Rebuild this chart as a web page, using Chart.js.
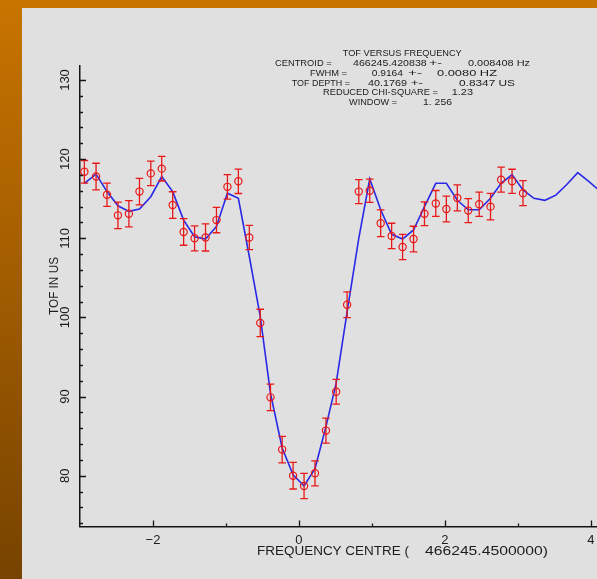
<!DOCTYPE html>
<html><head><meta charset="utf-8">
<script src="https://cdn.jsdelivr.net/npm/chart.js@4.4.1/dist/chart.umd.min.js"></script>
<style>
html,body{margin:0;padding:0;width:597px;height:579px;overflow:hidden;background:#e0e0e0;}
#topband{position:absolute;left:0;top:0;width:597px;height:8px;background:#c87400;}
#leftband{position:absolute;left:0;top:0;width:22px;height:579px;background:linear-gradient(#c87400,#774300);}
#wrap{position:absolute;left:0;top:0;width:597px;height:579px;}
</style></head><body>
<div id="topband"></div><div id="leftband"></div>
<div id="wrap"><canvas id="c" width="597" height="579"></canvas></div>
<script>
// ---- data (frequency offset from centre, TOF in us) ----
const freqOffsets = [-2.94,-2.78,-2.63,-2.48,-2.33,-2.185,-2.03,-1.88,-1.73,-1.58,-1.43,-1.28,-1.13,-0.98,-0.83,-0.68,
  -0.53,-0.39,-0.23,-0.08,0.07,0.22,0.37,0.51,0.66,
  0.82,0.97,1.12,1.27,1.42,1.57,1.72,1.875,2.02,2.17,2.32,2.47,2.625,2.77,2.92,3.07];
const tofMeasured = [118.4,117.8,115.5,112.9,113.1,115.9,118.2,118.8,114.2,110.8,110.0,110.1,112.3,116.5,117.2,110.1,
  99.3,89.9,83.3,80.0,78.7,80.3,85.7,90.6,101.6,
  115.9,116.0,111.9,110.3,108.9,109.9,113.1,114.4,113.7,115.1,113.5,114.3,114.0,117.4,117.2,115.7];
const tofErrors = [1.43,1.68,1.47,1.68,1.66,1.68,1.54,1.56,1.68,1.68,1.58,1.71,1.6,1.54,1.54,1.54,
  1.73,1.68,1.68,1.68,1.6,1.58,1.58,1.56,1.62,
  1.52,1.47,1.68,1.6,1.6,1.62,1.5,1.64,1.62,1.64,1.52,1.52,1.68,1.58,1.52,1.58];
const fitFreq = [-2.94,-2.78,-2.63,-2.48,-2.33,-2.185,-2.03,-1.88,-1.73,-1.58,-1.43,-1.28,-1.13,-0.98,-0.83,-0.68,
  -0.53,-0.39,-0.23,-0.08,0.07,0.22,0.37,0.51,0.66,
  0.82,0.97,1.12,1.27,1.42,1.57,1.72,1.875,2.02,2.17,2.32,2.47,2.625,2.77,2.92,3.07,
  3.22,3.37,3.52,3.67,3.82,3.97,4.12];
const fitTof = [116.95,118.1,115.9,114.1,113.4,113.7,115.25,117.8,115.9,112.3,110.2,109.9,111.5,115.7,115.05,107.7,
  100.1,90.4,83.5,80.1,78.7,80.9,86.2,91.7,100.7,
  110.0,117.5,113.6,110.5,109.9,111.05,114.0,116.95,116.95,114.8,113.6,113.6,115.05,116.95,118.05,116.1,
  115.05,114.8,115.45,116.8,118.3,117.2,116.0];
const xTickLabels = [-2,0,2,4];
const yTickLabels = [80,90,100,110,120,130];
const titleLines = [
  ["TOF VERSUS FREQUENCY"],
  ["CENTROID =","466245.420838","+-","0.008408 Hz"],
  ["FWHM =","0.9164","+-","0.0080 HZ"],
  ["TOF DEPTH =","40.1769","+-","0.8347 US"],
  ["REDUCED CHI-SQUARE =","1.23"],
  ["WINDOW =","1. 256"]
];
const xTitle = ["FREQUENCY CENTRE (","466245.4500000)"];
const yTitle = "TOF IN US";

// ---- layout / style ----
const FONT = '"Liberation Sans", Arial, sans-serif';
const titleSpans = [
  [[342.7,461.7]],
  [[275,331.7],[353,426.7],[429,442],[468,530]],
  [[310,347],[371.7,403],[408,422],[437,497]],
  [[291.7,350],[368,407],[410.7,423],[459,515]],
  [[323,438],[451.7,473]],
  [[349,397],[423,452]]
];
const titleY = [53.7,63.3,73.3,83.3,92.7,102.5];

function fitText(ctx, text, x0, x1, yc, size) {
  ctx.save();
  ctx.font = size + 'px ' + FONT;
  const w = ctx.measureText(text).width;
  ctx.translate(x0, yc);
  ctx.scale((x1 - x0) / w, 1);
  ctx.textAlign = 'left';
  ctx.textBaseline = 'middle';
  ctx.fillText(text, 0, 0);
  ctx.restore();
}
function fmt(v){ return v < 0 ? '\u2212' + Math.abs(v) : String(v); }

const errorBars = {
  id: 'errorBars',
  afterDatasetsDraw(chart) {
    const {ctx, scales: {x, y}} = chart;
    ctx.save();
    ctx.strokeStyle = '#e81818';
    ctx.lineWidth = 1.3;
    ctx.beginPath();
    freqOffsets.forEach((f, i) => {
      const px = x.getPixelForValue(f);
      const yt = y.getPixelForValue(tofMeasured[i] + tofErrors[i]);
      const yb = y.getPixelForValue(tofMeasured[i] - tofErrors[i]);
      ctx.moveTo(px, yt); ctx.lineTo(px, yb);
      ctx.moveTo(px - 3.8, yt); ctx.lineTo(px + 3.8, yt);
      ctx.moveTo(px - 3.8, yb); ctx.lineTo(px + 3.8, yb);
    });
    ctx.stroke();
    ctx.restore();
  }
};

const decorations = {
  id: 'decorations',
  afterDraw(chart) {
    const {ctx, chartArea: ca, scales: {x, y}} = chart;
    ctx.save();
    ctx.strokeStyle = '#151515';
    ctx.lineWidth = 1.3;
    ctx.beginPath();
    for (let v = 74; v <= 130; v += 2) {
      const py = Math.round(y.getPixelForValue(v)) + 0.5;
      const len = (v % 10 === 0) ? 6 : 3;
      ctx.moveTo(ca.left, py); ctx.lineTo(ca.left + len, py);
    }
    for (let v = -2; v <= 4; v += 1) {
      const px = Math.round(x.getPixelForValue(v)) + 0.5;
      const len = (v % 2 === 0) ? 6 : 3;
      ctx.moveTo(px, ca.bottom); ctx.lineTo(px, ca.bottom - len);
    }
    ctx.stroke();

    ctx.fillStyle = '#1c1c1c';
    ctx.font = '13px ' + FONT;
    ctx.textAlign = 'center';
    ctx.textBaseline = 'middle';
    yTickLabels.forEach(v => {
      const py = y.getPixelForValue(v);
      ctx.save();
      ctx.translate(65.5, py);
      ctx.rotate(-Math.PI / 2);
      ctx.fillText(fmt(v), 0, 0);
      ctx.restore();
    });
    xTickLabels.forEach(v => {
      const px = x.getPixelForValue(v);
      ctx.fillText(fmt(v), px, 540.5);
    });
    fitText(ctx, xTitle[0], 257, 409, 551.5, 13);
    fitText(ctx, xTitle[1], 425, 548, 551.5, 13);
    ctx.save();
    ctx.translate(54.5, 315);
    ctx.rotate(-Math.PI / 2);
    fitText(ctx, yTitle, 0, 58, 0, 13);
    ctx.restore();
    titleLines.forEach((parts, li) => {
      parts.forEach((t, pi) => {
        const s = titleSpans[li][pi];
        fitText(ctx, t, s[0], s[1], titleY[li], 9);
      });
    });
    ctx.restore();
  }
};

new Chart(document.getElementById('c'), {
  type: 'scatter',
  data: {
    datasets: [
      {
        label: 'measured',
        data: freqOffsets.map((f, i) => ({x: f, y: tofMeasured[i]})),
        pointStyle: 'circle',
        pointRadius: 3.6,
        pointBorderWidth: 1.2,
        borderColor: '#e81818',
        backgroundColor: 'rgba(0,0,0,0)',
        showLine: false
      },
      {
        label: 'fit',
        data: fitFreq.map((f, i) => ({x: f, y: fitTof[i]})),
        showLine: true,
        borderColor: '#2828e6',
        borderWidth: 1.6,
        pointRadius: 0,
        tension: 0,
        fill: false
      }
    ]
  },
  options: {
    responsive: false,
    animation: false,
    devicePixelRatio: 1,
    layout: {autoPadding: false, padding: {left: 80, top: 66, right: 0, bottom: 52.5}},
    plugins: {legend: {display: false}, tooltip: {enabled: false}},
    scales: {
      x: {
        type: 'linear', min: -3.0, max: 4.084,
        ticks: {display: false},
        grid: {display: false, drawTicks: false},
        border: {display: true, color: '#151515', width: 1.5}
      },
      y: {
        type: 'linear', min: 73.58, max: 131.77,
        ticks: {display: false},
        grid: {display: false, drawTicks: false},
        border: {display: true, color: '#151515', width: 1.5}
      }
    }
  },
  plugins: [errorBars, decorations]
});
</script>
</body></html>
